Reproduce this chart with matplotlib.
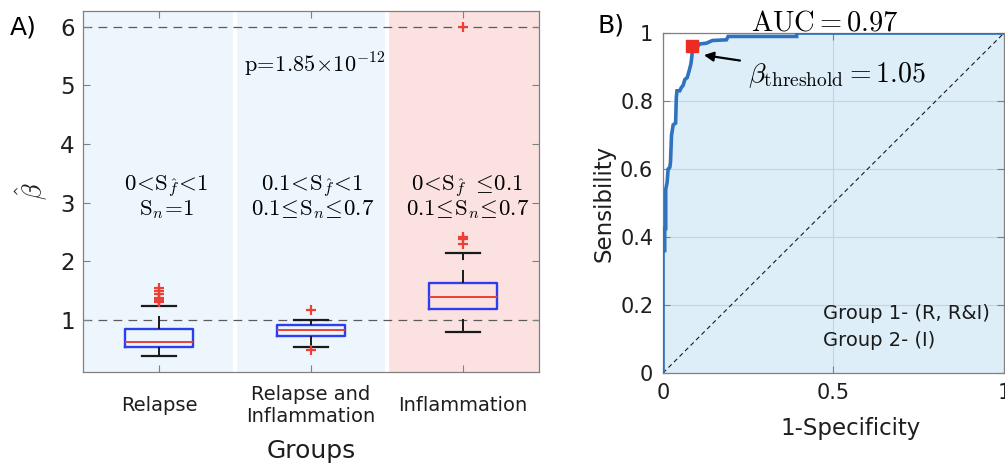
import matplotlib
matplotlib.use("Agg")
import matplotlib.pyplot as plt

plt.rcParams["mathtext.fontset"] = "cm"
plt.rcParams["font.family"] = "DejaVu Sans"

# box statistics for beta-hat per group
groups = ["Relapse", "Relapse and\nInflammation", "Inflammation"]
q1 = [0.534, 0.733, 1.193]
med = [0.625, 0.830, 1.400]
q3 = [0.846, 0.910, 1.626]
whislo = [0.39, 0.54, 0.80]
whishi = [1.24, 1.005, 2.15]
fliers = [
    [1.55, 1.50, 1.45, 1.38, 1.36, 1.34, 1.32, 1.30],
    [1.17, 0.49],
    [2.42, 2.38, 2.30, 6.0],
]
band_colors = ["#eef6fd", "#eef6fd", "#fbe2e1"]
ref_lines = [1, 6]
p_text = r"$\mathrm{p}\!=\!1.85\!\times\!10^{-12}$"
range_text = [
    (r"$0\!<\!\mathrm{S}_{\hat{f}}\!<\!1$", r"$\mathrm{S}_n\!=\!1$"),
    (r"$0.1\!<\!\mathrm{S}_{\hat{f}}\!<\!1$", r"$0.1\!\leq\!\mathrm{S}_n\!\leq\!0.7$"),
    (r"$0\!<\!\mathrm{S}_{\hat{f}}\ \leq\!0.1$", r"$0.1\!\leq\!\mathrm{S}_n\!\leq\!0.7$"),
]

# ROC curve (staircase vertices)
fpr = [0, 0, 0.005, 0.005, 0.008, 0.008, 0.012, 0.015, 0.020, 0.022, 0.025, 0.030,
       0.037, 0.039, 0.041, 0.049, 0.054, 0.059, 0.064, 0.071, 0.077, 0.082, 0.085,
       0.086, 0.103, 0.108, 0.127, 0.145, 0.186, 0.191, 0.392, 0.392, 1.0]
tpr = [0, 0.36, 0.36, 0.425, 0.425, 0.54, 0.56, 0.60, 0.605, 0.62, 0.70, 0.73,
       0.735, 0.81, 0.83, 0.83, 0.84, 0.846, 0.863, 0.869, 0.89, 0.91, 0.935,
       0.962, 0.962, 0.968, 0.970, 0.978, 0.980, 0.99, 0.99, 1.0, 1.0]
thr_point = (0.086, 0.962)
auc = 0.97
beta_thr = 1.05
group_text = "Group 1- (R, R&I)\nGroup 2- (I)"

fig = plt.figure(figsize=(10.05, 4.69), dpi=100)
spine_col = "#808080"
tick_col = "#1e1e1e"

# ---------------- panel A ----------------
ax = fig.add_axes([0.0826, 0.2068, 0.4537, 0.7697])
pos = [1, 2, 3]
for p, c in zip(pos, band_colors):
    ax.axvspan(p - 0.5, p + 0.5, color=c, lw=0, zorder=0)
for p in pos[:-1]:
    ax.axvline(p + 0.5, color="white", lw=3, zorder=0.5)
for y in ref_lines:
    ax.axhline(y, color="#5a5a5a", lw=0.9, dashes=(7, 5), zorder=1)

stats = []
for i, g in enumerate(groups):
    stats.append(dict(label=g, q1=q1[i], med=med[i], q3=q3[i],
                      whislo=whislo[i], whishi=whishi[i], fliers=fliers[i]))
bp = ax.bxp(stats, positions=pos, widths=0.45, capwidths=0.22,
            boxprops=dict(color="#2b3ff0", lw=1.7),
            medianprops=dict(color="#ee3f35", lw=1.4),
            whiskerprops=dict(color="#1a1a1a", lw=1.4, linestyle=(0, (6.7, 5.1))),
            capprops=dict(color="#1a1a1a", lw=1.6),
            flierprops=dict(marker="+", markeredgecolor="#ee3f35", markersize=7,
                            markeredgewidth=1.6, linestyle="none"),
            manage_ticks=False, zorder=3)
# lower whiskers run from the whisker end up to the box
for w in bp["whiskers"][0::2]:
    w.set_ydata(w.get_ydata()[::-1])

ax.text(2.02, 5.35, p_text, ha="center", va="center", fontsize=16)
xs = [1.05, 2.01, 3.03]
for x, (l1, l2) in zip(xs, range_text):
    ax.text(x, 3.27, l1, ha="center", va="center", fontsize=16.5)
    ax.text(x, 2.88, l2, ha="center", va="center", fontsize=16.5)

ax.set_xlim(0.5, 3.5)
ax.set_ylim(0.113, 6.27)
ax.set_yticks([1, 2, 3, 4, 5, 6])
ax.set_xticks(pos)
ax.set_xticklabels(groups, fontsize=14, va="center")
ax.tick_params(axis="x", pad=24)
ax.tick_params(axis="y", labelsize=16.5, pad=6)
ax.tick_params(direction="in", length=5, width=0.8, color=spine_col,
               labelcolor=tick_col, top=True, right=True)
for s in ax.spines.values():
    s.set_color(spine_col)
    s.set_linewidth(0.9)
ax.set_xlabel("Groups", fontsize=18, color=tick_col)
ax.xaxis.set_label_coords(0.5, -0.186)
ax.set_ylabel(r"$\hat{\beta}$", fontsize=19, color=tick_col)
ax.yaxis.set_label_coords(-0.072, 0.5)

# ---------------- panel B ----------------
bx = fig.add_axes([0.6597, 0.2047, 0.3393, 0.7249])
bx.fill_between(fpr, tpr, 0, color="#ddeef9", lw=0, zorder=1)
bx.plot([0, 1], [0, 1], color="#1a1a1a", lw=0.8, dashes=(4, 3), zorder=2)
bx.plot(fpr, tpr, color="#2f72bd", lw=2.6, zorder=3, solid_joinstyle="miter")
bx.plot(*thr_point, marker="s", color="#ee2a24", markersize=9, zorder=4)
bx.annotate(r"$\beta_{\mathrm{threshold}} = %.2f$" % beta_thr,
            xy=(0.12, 0.935), xytext=(0.25, 0.876), fontsize=20,
            ha="left", va="center",
            arrowprops=dict(arrowstyle="-|>", color="black", lw=1.6,
                            mutation_scale=14, shrinkA=4, shrinkB=0))
bx.text(0.47, 0.135, group_text, ha="left", va="center", fontsize=14,
        linespacing=1.5, color="#1a1a1a")
bx.set_title(r"$\mathrm{AUC} = %.2f$" % auc, fontsize=20.5, pad=2, x=0.475)

bx.set_xlim(0, 1)
bx.set_ylim(0, 1)
bx.set_xticks([0, 0.5, 1])
bx.set_xticklabels(["0", "0.5", "1"])
bx.set_yticks([0, 0.2, 0.4, 0.6, 0.8, 1])
bx.set_yticklabels(["0", "0.2", "0.4", "0.6", "0.8", "1"])
bx.grid(True, color="#c8d2da", lw=0.8)
bx.tick_params(direction="in", length=5, width=0.8, color=spine_col,
               labelcolor=tick_col, labelsize=15, top=True, right=True, pad=7)
for s in bx.spines.values():
    s.set_color(spine_col)
    s.set_linewidth(0.9)
bx.set_xlabel("1-Specificity", fontsize=16.5, color=tick_col)
bx.xaxis.set_label_coords(0.55, -0.13)
bx.set_ylabel("Sensibility", fontsize=16.5, color=tick_col)
bx.yaxis.set_label_coords(-0.14, 0.5)

fig.text(10 / 1005, 1 - 27 / 469, "A)", fontsize=18, va="center", ha="left")
fig.text(597 / 1005, 1 - 25 / 469, "B)", fontsize=18, va="center", ha="left")

fig.savefig("out.png", dpi=100)
